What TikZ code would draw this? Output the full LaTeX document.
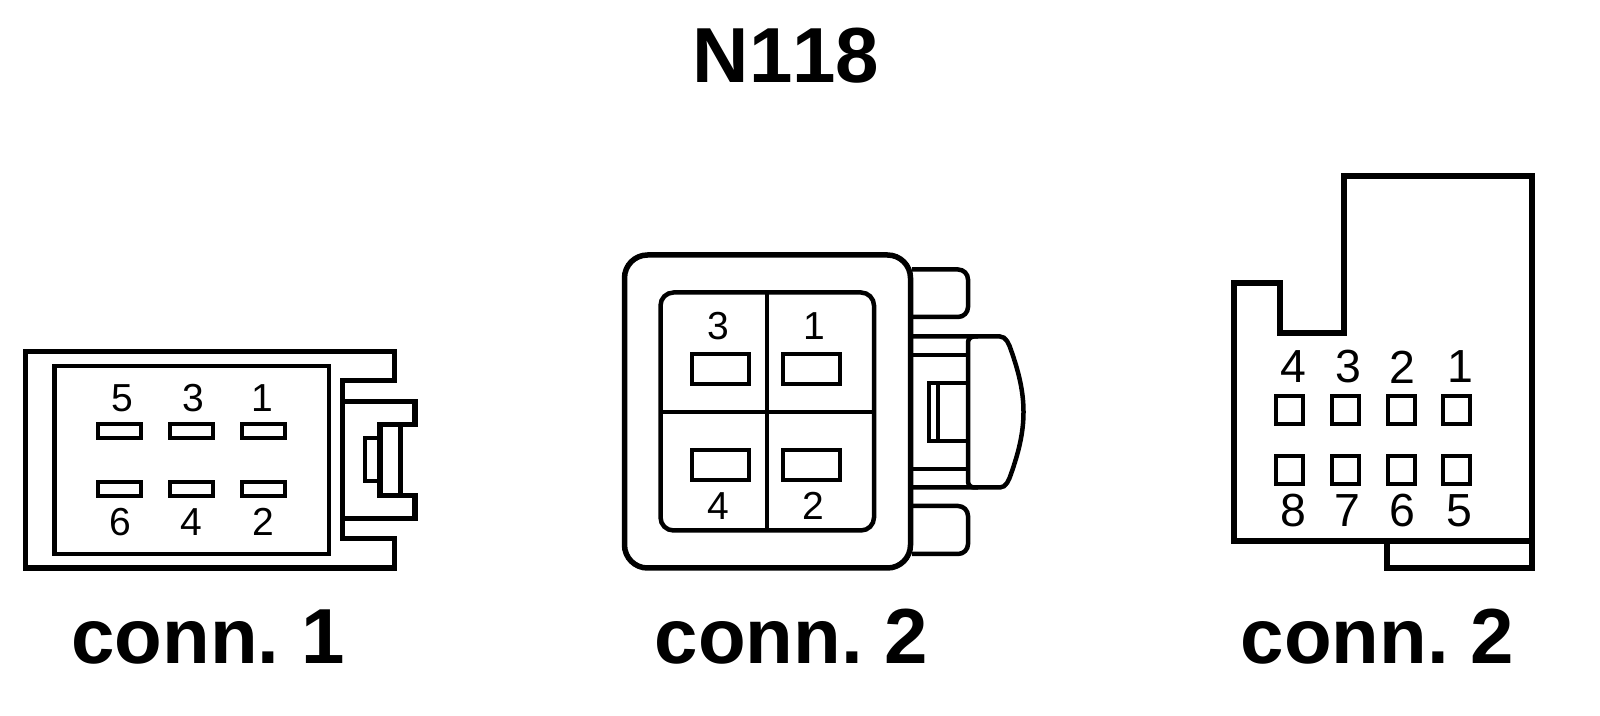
\documentclass[tikz,border=0pt]{standalone}
\usepackage{fontspec}
\setmainfont[Kerning=Off]{Liberation Sans}
\tikzset{
    heavy/.style={line width=0.055cm, line join=miter},
    wall/.style={line width=0.045cm},
    fine/.style={line width=0.035cm},
    pinbox/.style={draw, line width=0.04cm, inner sep=0pt, outer sep=0pt, minimum width=#1},
    pinnum/.style={font=\fontsize{11.1}{13}\selectfont, inner sep=0pt},
    bignum/.style={font=\fontsize{13.2}{15}\selectfont, inner sep=0pt},
    caption/.style={font=\fontsize{22.2}{26}\selectfont\bfseries\frenchspacing, anchor=base, inner sep=0pt}
}
\begin{document}
\begin{tikzpicture}[x=0.01cm, y=-0.01cm]
\useasboundingbox (0,0) rectangle (1600,716);
\node[caption] (title) at (786,83) {N118};
\node[caption] (capa) at (208,664) {conn. 1};
\node[caption] (capb) at (791.5,664) {conn. 2};
\node[caption] (capc) at (1377.5,664) {conn. 2};

\draw[heavy] (342.7,380.5) -- (394.5,380.5) -- (394.5,351.5) -- (25.5,351.5) -- (25.5,568) -- (394.5,568) -- (394.5,538.3) -- (342.7,538.3) -- cycle;
\draw[wall] (54.5,366) rectangle (329,554);
\draw[heavy] (342.7,401.5) -- (415,401.5) -- (415,424.5) -- (380,424.5) -- (380,495.5) -- (415,495.5) -- (415,518.5) -- (342.7,518.5);
\draw[wall] (400.5,424.5) -- (400.5,495.5);
\draw[fine] (380,438) -- (365,438) -- (365,481) -- (380,481);
\foreach \px/\py/\pname in {263.5/431/a1, 263.5/489/a2, 191.5/431/a3, 191.5/489/a4, 119.5/431/a5, 119.5/489/a6}
    \node[pinbox=0.43cm, minimum height=0.14cm] (\pname) at (\px,\py) {};
\foreach \px/\py/\ptxt in {262.7/398/1, 263/521.7/2, 193/398/3, 191.7/521.7/4, 122.5/398/5, 120.5/521.7/6}
    \node[pinnum] (anum\ptxt) at (\px,\py) {\ptxt};

\draw[heavy, rounded corners=0.23cm] (624.5,255) rectangle (910.5,568);
\draw[wall, rounded corners=0.13cm] (660.5,292.5) rectangle (874,530.5);
\draw[wall] (767,292.5) -- (767,530.5);
\draw[wall] (660.5,412) -- (874,412);
\foreach \px/\py/\pname in {811.5/369/b1, 811.5/465/b2, 720.5/369/b3, 720.5/465/b4}
    \node[pinbox=0.575cm, minimum height=0.3cm] (\pname) at (\px,\py) {};
\foreach \px/\py/\ptxt in {814.5/326/1, 813/506/2, 718/326/3, 718/506/4}
    \node[pinnum] (bnum\ptxt) at (\px,\py) {\ptxt};
\draw[wall, rounded corners=0.1cm] (912,269.5) -- (968,269.5) -- (968,317) -- (912,317);
\draw[wall, rounded corners=0.1cm] (912,506) -- (968,506) -- (968,554) -- (912,554);
\draw[wall] (912,336.5) -- (1000,336.5) .. controls (1006,336.5) and (1009,344) .. (1011,350) .. controls (1018,370) and (1023.5,390) .. (1023.5,412) .. controls (1023.5,434) and (1018,454) .. (1011,474) .. controls (1009,480) and (1006,487.5) .. (1000,487.5) -- (912,487.5);
\draw[wall, rounded corners=0.06cm] (978,336.5) -- (968,336.5) -- (968,487.5) -- (978,487.5);
\draw[fine] (912,355) -- (968,355);
\draw[fine] (912,469) -- (968,469);
\draw[fine] (968,383) -- (929,383) -- (929,441) -- (968,441);
\draw[fine] (938,383) -- (938,441);

\draw[line width=0.06cm] (1233.5,283.5) -- (1280,283.5) -- (1280,333.5) -- (1344,333.5) -- (1344,176) -- (1532,176) -- (1532,541) -- (1233.5,541) -- cycle;
\draw[line width=0.06cm] (1387,541) -- (1387,568) -- (1532,568) -- (1532,541);
\foreach \px/\py/\pname in {1456.5/410/c1, 1401/410/c2, 1345.5/410/c3, 1289.5/410/c4, 1456.5/470/c5, 1401/470/c6, 1345.5/470/c7, 1289.5/470/c8}
    \node[pinbox=0.27cm, minimum height=0.27cm] (\pname) at (\px,\py) {};
\foreach \px/\py/\ptxt in {1460/367/1, 1402/367/2, 1348/367/3, 1293/367/4, 1459/511/5, 1402/511/6, 1347/511/7, 1293/511/8}
    \node[bignum] (cnum\ptxt) at (\px,\py) {\ptxt};
\end{tikzpicture}
\end{document}
